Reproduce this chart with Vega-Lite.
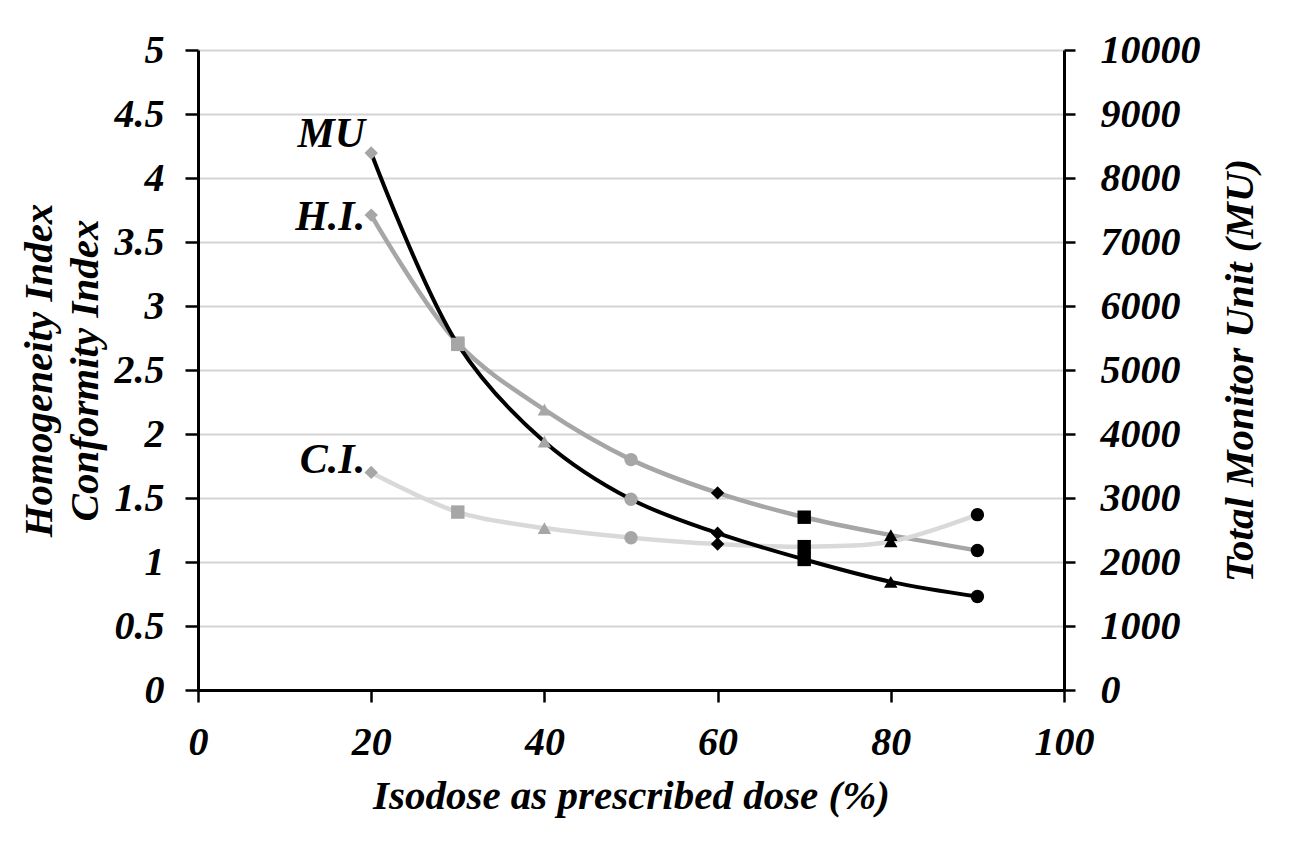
{
  "$schema": "https://vega.github.io/schema/vega-lite/v6.json",
  "width": 866,
  "height": 640,
  "autosize": {"type": "none"},
  "padding": {"left": 198, "top": 50, "right": 226, "bottom": 151},
  "background": "white",
  "config": {
    "view": {"stroke": null},
    "font": "Liberation Serif",
    "axis": {
      "labelFont": "Liberation Serif",
      "labelFontSize": 40,
      "labelFontStyle": "italic",
      "labelFontWeight": "bold",
      "labelColor": "black",
      "titleFont": "Liberation Serif",
      "titleFontSize": 41,
      "titleFontStyle": "italic",
      "titleFontWeight": "bold",
      "titleColor": "black",
      "domainColor": "black",
      "domainWidth": 3,
      "tickColor": "black",
      "tickWidth": 2.5
    }
  },
  "datasets": {
    "idx": [
      {"dose": 20, "series": "H.I.", "value": 3.71},
      {"dose": 30, "series": "H.I.", "value": 2.71},
      {"dose": 40, "series": "H.I.", "value": 2.19},
      {"dose": 50, "series": "H.I.", "value": 1.80},
      {"dose": 60, "series": "H.I.", "value": 1.54},
      {"dose": 70, "series": "H.I.", "value": 1.35},
      {"dose": 80, "series": "H.I.", "value": 1.21},
      {"dose": 90, "series": "H.I.", "value": 1.09},
      {"dose": 20, "series": "C.I.", "value": 1.70},
      {"dose": 30, "series": "C.I.", "value": 1.39},
      {"dose": 40, "series": "C.I.", "value": 1.265},
      {"dose": 50, "series": "C.I.", "value": 1.19},
      {"dose": 60, "series": "C.I.", "value": 1.14},
      {"dose": 70, "series": "C.I.", "value": 1.12},
      {"dose": 80, "series": "C.I.", "value": 1.16},
      {"dose": 90, "series": "C.I.", "value": 1.37},
      {"dose": 20, "series": "MU", "value": 8390},
      {"dose": 30, "series": "MU", "value": 5400},
      {"dose": 40, "series": "MU", "value": 3880},
      {"dose": 50, "series": "MU", "value": 2980},
      {"dose": 60, "series": "MU", "value": 2450},
      {"dose": 70, "series": "MU", "value": 2040},
      {"dose": 80, "series": "MU", "value": 1690},
      {"dose": 90, "series": "MU", "value": 1460}
    ],
    "labels": [
      {"dose": 20, "value": 4.24, "label": "MU"},
      {"dose": 20, "value": 3.59, "label": "H.I."},
      {"dose": 20, "value": 1.695, "label": "C.I."}
    ]
  },
  "encoding": {
    "x": {
      "field": "dose",
      "type": "quantitative",
      "scale": {"domain": [0, 100], "nice": false},
      "axis": {
        "title": "Isodose as prescribed dose (%)",
        "values": [0, 20, 40, 60, 80, 100],
        "format": "d",
        "grid": false,
        "tickSize": 12,
        "labelPadding": 20,
        "labelFlush": false,
        "titleX": 433,
        "titleY": 118,
        "titleBaseline": "alphabetic",
        "titleAlign": "center"
      }
    }
  },
  "layer": [
    {
      "layer": [
        {
          "data": {"name": "idx"},
          "transform": [{"filter": "datum.series !== 'MU'"}],
          "mark": {"type": "line", "interpolate": "catmull-rom", "strokeWidth": 4.5},
          "encoding": {
            "y": {
              "field": "value",
              "type": "quantitative",
              "scale": {"domain": [0, 5], "nice": false},
              "axis": {
                "title": ["Homogeneity Index", "Conformity Index"],
                "values": [0, 0.5, 1, 1.5, 2, 2.5, 3, 3.5, 4, 4.5, 5],
                "format": "~g",
                "grid": true,
                "gridColor": "#D4D4D4",
                "gridWidth": 2,
                "tickSize": 13,
                "labelPadding": 21,
                "titleLineHeight": 46,
                "titleX": -138,
                "titleY": 320,
                "titleAngle": -90,
                "titleAlign": "center",
                "titleBaseline": "bottom"
              }
            },
            "color": {
              "field": "series",
              "type": "nominal",
              "scale": {"domain": ["H.I.", "C.I."], "range": ["#A6A6A6", "#D9D9D9"]},
              "legend": null
            },
            "detail": {"field": "series"}
          }
        },
        {
          "data": {"name": "idx"},
          "transform": [{"filter": "datum.series !== 'MU'"}],
          "mark": {"type": "point", "filled": true, "size": 180, "opacity": 1},
          "encoding": {
            "y": {"field": "value", "type": "quantitative"},
            "shape": {
              "field": "dose",
              "type": "ordinal",
              "scale": {
                "domain": [20, 30, 40, 50, 60, 70, 80, 90],
                "range": ["diamond", "square", "triangle-up", "circle", "diamond", "square", "triangle-up", "circle"]
              },
              "legend": null
            },
            "color": {"condition": {"test": "datum.dose >= 60", "value": "black"}, "value": "#A6A6A6"}
          }
        },
        {
          "data": {"name": "labels"},
          "mark": {"type": "text", "align": "right", "baseline": "alphabetic", "dx": -6, "font": "Liberation Serif", "fontSize": 42, "fontStyle": "italic", "fontWeight": "bold", "color": "black"},
          "encoding": {
            "y": {"field": "value", "type": "quantitative"},
            "text": {"field": "label"}
          }
        }
      ]
    },
    {
      "layer": [
        {
          "data": {"name": "idx"},
          "transform": [{"filter": "datum.series === 'MU'"}],
          "mark": {"type": "line", "interpolate": "catmull-rom", "strokeWidth": 4, "color": "black"},
          "encoding": {
            "y": {
              "field": "value",
              "type": "quantitative",
              "scale": {"domain": [0, 10000], "nice": false},
              "axis": {
                "orient": "right",
                "title": "Total Monitor Unit (MU)",
                "values": [0, 1000, 2000, 3000, 4000, 5000, 6000, 7000, 8000, 9000, 10000],
                "format": "d",
                "grid": false,
                "tickSize": 11,
                "labelPadding": 25,
                "titleX": 176,
                "titleY": 320,
                "titleAngle": -90,
                "titleAlign": "center",
                "titleBaseline": "middle"
              }
            }
          }
        },
        {
          "data": {"name": "idx"},
          "transform": [{"filter": "datum.series === 'MU'"}],
          "mark": {"type": "point", "filled": true, "size": 180, "opacity": 1},
          "encoding": {
            "y": {"field": "value", "type": "quantitative"},
            "shape": {
              "field": "dose",
              "type": "ordinal",
              "scale": {
                "domain": [20, 30, 40, 50, 60, 70, 80, 90],
                "range": ["diamond", "square", "triangle-up", "circle", "diamond", "square", "triangle-up", "circle"]
              },
              "legend": null
            },
            "color": {"condition": {"test": "datum.dose >= 60", "value": "black"}, "value": "#A6A6A6"}
          }
        }
      ]
    }
  ],
  "resolve": {"scale": {"y": "independent"}}
}
